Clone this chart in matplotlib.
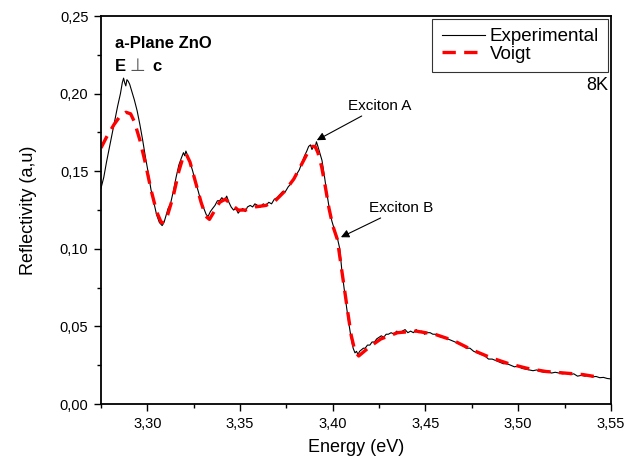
import matplotlib
matplotlib.use("Agg")
import matplotlib.pyplot as plt
from matplotlib.ticker import MultipleLocator, FuncFormatter

plt.rcParams['font.family'] = ['Liberation Sans', 'DejaVu Sans']

# experimental reflectivity spectrum
exp_energy = [
    3.2750, 3.2765, 3.2780, 3.2795, 3.2810, 3.2825, 3.2840, 3.2855, 3.2865, 3.2872,
    3.2878, 3.2884, 3.2890, 3.2897, 3.2905, 3.2915, 3.2930, 3.2945, 3.2960, 3.2975,
    3.2990, 3.3005, 3.3020, 3.3035, 3.3050, 3.3065, 3.3080, 3.3090, 3.3100, 3.3112,
    3.3125, 3.3140, 3.3155, 3.3170, 3.3185, 3.3195, 3.3202, 3.3208, 3.3218, 3.3230,
    3.3245, 3.3260, 3.3275, 3.3290, 3.3305, 3.3318, 3.3328, 3.3340, 3.3352, 3.3365,
    3.3378, 3.3390, 3.3402, 3.3415, 3.3428, 3.3440, 3.3452, 3.3465, 3.3478, 3.3490,
    3.3503, 3.3515, 3.3528, 3.3540, 3.3555, 3.3568, 3.3580, 3.3595, 3.3610, 3.3625,
    3.3640, 3.3655, 3.3670, 3.3685, 3.3700, 3.3715, 3.3730, 3.3745, 3.3760, 3.3775,
    3.3790, 3.3805, 3.3820, 3.3835, 3.3848, 3.3860, 3.3870, 3.3880, 3.3888, 3.3896,
    3.3904, 3.3912, 3.3920, 3.3930, 3.3942, 3.3955, 3.3968, 3.3980, 3.3995, 3.4010,
    3.4025, 3.4038, 3.4050, 3.4062, 3.4075, 3.4088, 3.4100, 3.4110, 3.4120, 3.4128,
    3.4136, 3.4145, 3.4155, 3.4165, 3.4175, 3.4187, 3.4200, 3.4212, 3.4225, 3.4237,
    3.4250, 3.4262, 3.4275, 3.4288, 3.4300, 3.4315, 3.4330, 3.4345, 3.4360, 3.4375,
    3.4390, 3.4405, 3.4420, 3.4435, 3.4450, 3.4465, 3.4480, 3.4495, 3.4510, 3.4525,
    3.4540, 3.4555, 3.4570, 3.4585, 3.4600, 3.4620, 3.4640, 3.4660, 3.4680, 3.4700,
    3.4720, 3.4740, 3.4760, 3.4780, 3.4800, 3.4820, 3.4840, 3.4860, 3.4880, 3.4900,
    3.4920, 3.4940, 3.4960, 3.4980, 3.5000, 3.5020, 3.5040, 3.5060, 3.5080, 3.5100,
    3.5120, 3.5140, 3.5160, 3.5180, 3.5200, 3.5220, 3.5240, 3.5260, 3.5280, 3.5300,
    3.5320, 3.5340, 3.5360, 3.5380, 3.5400, 3.5420, 3.5440, 3.5460, 3.5480, 3.5500,
]
exp_refl = [
    0.139, 0.146, 0.156, 0.165, 0.174, 0.183, 0.192, 0.200, 0.207, 0.210,
    0.207, 0.205, 0.209, 0.208, 0.206, 0.202, 0.196, 0.189, 0.180, 0.170,
    0.159, 0.149, 0.138, 0.130, 0.122, 0.117, 0.115, 0.117, 0.121, 0.126,
    0.129, 0.137, 0.146, 0.154, 0.159, 0.162, 0.160, 0.163, 0.160, 0.156,
    0.150, 0.143, 0.137, 0.130, 0.126, 0.122, 0.121, 0.124, 0.126, 0.128,
    0.131, 0.131, 0.133, 0.131, 0.134, 0.130, 0.127, 0.125, 0.126, 0.123,
    0.125, 0.126, 0.124, 0.127, 0.128, 0.127, 0.129, 0.128, 0.127, 0.129,
    0.128, 0.130, 0.129, 0.132, 0.133, 0.135, 0.137, 0.137, 0.140, 0.142,
    0.145, 0.148, 0.151, 0.156, 0.160, 0.163, 0.166, 0.167, 0.164, 0.166,
    0.165, 0.169, 0.166, 0.162, 0.157, 0.147, 0.136, 0.127, 0.118, 0.112,
    0.107, 0.100, 0.085, 0.074, 0.062, 0.051, 0.042, 0.036, 0.033, 0.034,
    0.032, 0.034, 0.035, 0.036, 0.036, 0.038, 0.038, 0.040, 0.040, 0.042,
    0.043, 0.044, 0.043, 0.045, 0.045, 0.046, 0.045, 0.047, 0.046, 0.047,
    0.048, 0.046, 0.047, 0.046, 0.048, 0.046, 0.047, 0.045, 0.046, 0.046,
    0.045, 0.045, 0.044, 0.043, 0.043, 0.042, 0.041, 0.040, 0.039, 0.038,
    0.036, 0.036, 0.034, 0.033, 0.032, 0.031, 0.029, 0.029, 0.028, 0.027,
    0.026, 0.026, 0.025, 0.024, 0.0245, 0.023, 0.0225, 0.022, 0.0215, 0.022,
    0.021, 0.0205, 0.021, 0.020, 0.0205, 0.020, 0.0195, 0.020, 0.019, 0.0195,
    0.018, 0.0185, 0.018, 0.0185, 0.0175, 0.0178, 0.017, 0.0172, 0.0165, 0.0162,
]

# Voigt fit
fit_energy = [
    3.2750, 3.2780, 3.2820, 3.2850, 3.2885, 3.2910, 3.2930, 3.2960, 3.2990, 3.3020,
    3.3050, 3.3075, 3.3090, 3.3110, 3.3140, 3.3170, 3.3195, 3.3210, 3.3230, 3.3260,
    3.3290, 3.3315, 3.3335, 3.3360, 3.3390, 3.3420, 3.3450, 3.3490, 3.3530, 3.3580,
    3.3640, 3.3690, 3.3740, 3.3790, 3.3830, 3.3865, 3.3890, 3.3905, 3.3920, 3.3940,
    3.3960, 3.3980, 3.4000, 3.4025, 3.4050, 3.4080, 3.4100, 3.4120, 3.4140, 3.4160,
    3.4200, 3.4260, 3.4350, 3.4450, 3.4550, 3.4650, 3.4750, 3.4850, 3.4950, 3.5050,
    3.5150, 3.5250, 3.5350, 3.5450,
]
fit_refl = [
    0.165, 0.172, 0.180, 0.185, 0.188, 0.187, 0.182, 0.170, 0.155, 0.138,
    0.124, 0.117, 0.117, 0.122, 0.134, 0.150, 0.160, 0.161, 0.156, 0.143,
    0.130, 0.121, 0.119, 0.124, 0.130, 0.132, 0.129, 0.125, 0.125, 0.127,
    0.128, 0.131, 0.137, 0.145, 0.154, 0.162, 0.166, 0.166, 0.162, 0.153,
    0.140, 0.126, 0.115, 0.106, 0.085, 0.060, 0.044, 0.034, 0.031, 0.033,
    0.037, 0.042, 0.046, 0.047, 0.045, 0.041, 0.035, 0.030, 0.026, 0.023,
    0.021, 0.020, 0.019, 0.017,
]

x_ticks = [3.30, 3.35, 3.40, 3.45, 3.50, 3.55]
y_ticks = [0.00, 0.05, 0.10, 0.15, 0.20, 0.25]

comma = FuncFormatter(lambda v, pos: "{:.2f}".format(v).replace(".", ","))

fig = plt.figure(figsize=(6.39, 4.65), dpi=100)
ax = fig.add_axes([0.158, 0.131, 0.798, 0.8345])

ax.plot(exp_energy, exp_refl, color="black", lw=0.8, label="Experimental")
ax.plot(fit_energy, fit_refl, color="red", lw=2.4, dashes=(4, 2.5), label="Voigt")

ax.set_xlim(3.275, 3.55)
ax.set_ylim(0, 0.25)
ax.set_xticks(x_ticks)
ax.set_yticks(y_ticks)
ax.xaxis.set_minor_locator(MultipleLocator(0.025))
ax.yaxis.set_minor_locator(MultipleLocator(0.025))
ax.xaxis.set_major_formatter(comma)
ax.yaxis.set_major_formatter(comma)
ax.tick_params(which="major", direction="out", length=5, width=1.0, labelsize=10.5, pad=4)
ax.tick_params(which="minor", direction="out", length=3, width=1.0)
for s in ax.spines.values():
    s.set_linewidth(1.3)

ax.set_xlabel("Energy (eV)", fontsize=13, labelpad=6)
ax.set_ylabel("Reflectivity (a,u)", fontsize=13, labelpad=16)

leg = ax.legend(loc="upper right", fontsize=13.5, handlelength=2.3, handletextpad=0.25,
                borderpad=0.5, labelspacing=0.02, borderaxespad=0.15, fancybox=False)
leg.get_frame().set_edgecolor("black")
leg.get_frame().set_linewidth(0.8)

ax.text(0.0275, 0.9175, "a-Plane ZnO", transform=ax.transAxes, fontsize=12,
        fontweight="bold", va="baseline")
ax.text(0.0275, 0.858, "E", transform=ax.transAxes, fontsize=12,
        fontweight="bold", va="baseline")
ax.text(0.055, 0.858, "\u22a5", transform=ax.transAxes, fontsize=13,
        color="#555555", va="baseline", family=["DejaVu Sans"])
ax.text(0.1, 0.858, "c", transform=ax.transAxes, fontsize=12,
        fontweight="bold", va="baseline")
ax.text(0.994, 0.82, "8K", transform=ax.transAxes, fontsize=13,
        ha="right", va="center")

arrow = dict(arrowstyle="-|>", color="black", lw=0.8, mutation_scale=12, shrinkA=0, shrinkB=0)
ax.annotate("Exciton A", xy=(3.3914, 0.170), xytext=(3.4254, 0.1919),
            fontsize=11, ha="center", va="center", arrowprops=arrow)
ax.annotate("Exciton B", xy=(3.4044, 0.1075), xytext=(3.4367, 0.1262),
            fontsize=11, ha="center", va="center", arrowprops=arrow)

fig.savefig("out.png", dpi=100)
